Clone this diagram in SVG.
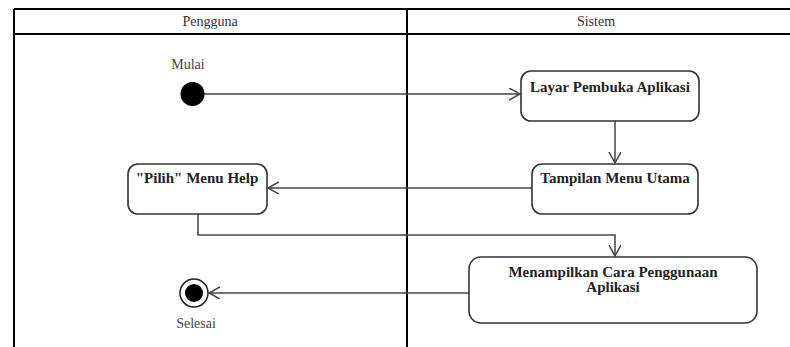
<svg xmlns="http://www.w3.org/2000/svg" width="790" height="347" viewBox="0 0 790 347">
<defs>
<style>
.frame{stroke:#000;stroke-width:2;fill:none}
.box{fill:#fff;stroke:#333;stroke-width:1.6}
.conn{fill:none;stroke:#444;stroke-width:1.5}
.lbl{font-family:"Liberation Serif",serif;font-size:15px;font-weight:bold;fill:#222;text-anchor:middle}
.hdr{font-family:"Liberation Serif",serif;font-size:14px;fill:#333;text-anchor:middle}
.cap{font-family:"Liberation Serif",serif;font-size:14px;fill:#444;text-anchor:middle}
</style>
<marker id="arr" markerWidth="14" markerHeight="14" refX="11" refY="6" orient="auto" markerUnits="userSpaceOnUse">
<path d="M0,0 L11,6 L0,12" fill="none" stroke="#444" stroke-width="1.5"/>
</marker>
</defs>
<rect width="790" height="347" fill="#fff"/>
<g id="swimlanes">
<path class="frame" d="M14,9 H790 M14,34 H790 M14,9 V347 M407,9 V347"/>
<text class="hdr" x="210" y="26">Pengguna</text>
<text class="hdr" x="596" y="26">Sistem</text>
</g>
<g id="connectors">
<path class="conn" d="M204,94 H520" marker-end="url(#arr)"/>
<path class="conn" d="M615,121 V163" marker-end="url(#arr)"/>
<path class="conn" d="M532,188 H268" marker-end="url(#arr)"/>
<path class="conn" d="M198,214 V235 H615 V256" marker-end="url(#arr)"/>
<path class="conn" d="M469,293 H209" marker-end="url(#arr)"/>
</g>
<g id="start">
<text class="cap" x="188" y="69">Mulai</text>
<circle cx="192.5" cy="94" r="12" fill="#000"/>
</g>
<g id="layar">
<rect class="box" x="521" y="71" width="178" height="50" rx="10"/>
<text class="lbl" x="610" y="92">Layar Pembuka Aplikasi</text>
</g>
<g id="tampilan">
<rect class="box" x="532" y="164" width="166" height="50" rx="10"/>
<text class="lbl" x="615" y="183">Tampilan Menu Utama</text>
</g>
<g id="pilih">
<rect class="box" x="128" y="164" width="139" height="50" rx="10"/>
<text class="lbl" x="197" y="183">"Pilih" Menu Help</text>
</g>
<g id="menampilkan">
<rect class="box" x="469" y="257" width="288" height="66" rx="12"/>
<text class="lbl" x="613" y="277">Menampilkan Cara Penggunaan</text>
<text class="lbl" x="613" y="292">Aplikasi</text>
</g>
<g id="end">
<circle cx="194" cy="293" r="14" fill="#fff" stroke="#222" stroke-width="1.5"/>
<circle cx="194" cy="293" r="9" fill="#000"/>
<text class="cap" x="196" y="328">Selesai</text>
</g>
</svg>
